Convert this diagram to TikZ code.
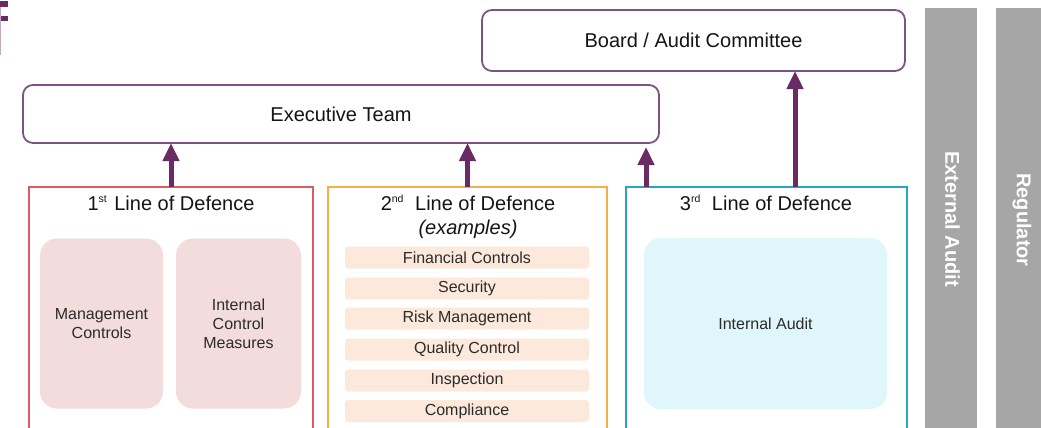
\documentclass[tikz,border=0pt]{standalone}
\usepackage{fontspec}
\setmainfont{Liberation Sans}
\usetikzlibrary{arrows.meta,calc}

\definecolor{boxpurple}{HTML}{7E5284}
\definecolor{arrowpurple}{HTML}{6A2A66}
\definecolor{lineone}{HTML}{DC5C62}
\definecolor{linetwo}{HTML}{F5AE48}
\definecolor{linethree}{HTML}{28A4C4}
\definecolor{pinkfill}{HTML}{F2DCDC}
\definecolor{peachfill}{HTML}{FCE9DC}
\definecolor{cyanfill}{HTML}{DFF6FB}
\definecolor{sidegray}{HTML}{A6A6A6}
\definecolor{inktext}{HTML}{151515}
\definecolor{softtext}{HTML}{2B2B2B}

% small raised ordinal suffix
\newcommand{\ordsuf}[1]{\raisebox{8pt}{\fontsize{10.5}{12}\selectfont #1}}

\tikzset{
  bigfont/.style={font=\fontsize{20}{24}\selectfont},
  smallfont/.style={font=\fontsize{16}{19}\selectfont},
  govbox/.style={draw=boxpurple, line width=1.8pt, rounded corners=10pt,
    fill=white, inner sep=0pt, outer sep=0pt, bigfont, text=inktext},
  linebox/.style={draw=#1, line width=1.6pt, fill=white, inner sep=0pt, outer sep=0pt},
  linetitle/.style={bigfont, text=inktext, inner sep=0pt},
  ctrlbox/.style={fill=#1, rounded corners=17pt, inner sep=0pt, outer sep=0pt,
    smallfont, text=softtext, align=center},
  listbar/.style={fill=peachfill, rounded corners=3pt, minimum width=244pt,
    minimum height=22pt, inner sep=0pt, smallfont, text=softtext},
  sidebar/.style={fill=sidegray, inner sep=0pt, outer sep=0pt},
  sidelabel/.style={text=white, font=\fontsize{20}{24}\selectfont\bfseries, rotate=-90, inner sep=0pt},
  uparrow/.style={draw=arrowpurple, line width=5pt,
    -{Triangle[length=18pt,width=16pt]}},
}

\begin{document}
\begin{tikzpicture}[x=1pt,y=-1pt]
\useasboundingbox (0,0) rectangle (1041,428);
\clip (0,0) rectangle (1041,428);
\fill[white] (0,0) rectangle (1041,428);

% edge of a heading letter cut off at the left border
\fill[arrowpurple] (-4,1) rectangle (7.5,7);
\fill[arrowpurple] (-4,16) rectangle (7.5,21.5);
\fill[arrowpurple!40] (-4,7) rectangle (0.8,55);

% governance boxes
\node[govbox, minimum width=423pt, minimum height=61pt] (board) at (693.5,40.5) {Board / Audit Committee};
\node[govbox, minimum width=636pt, minimum height=58pt] (exec) at (341,114) {Executive Team};

% the three lines of defence (they run on past the lower edge)
\node[linebox=lineone,   minimum width=284pt, minimum height=245pt] (lod1) at (171,309.5) {};
\node[linebox=linetwo,   minimum width=279pt, minimum height=245pt] (lod2) at (467.5,309.5) {};
\node[linebox=linethree, minimum width=281pt, minimum height=245pt] (lod3) at (766.5,309.5) {};

\node[linetitle] (t1) at (171,203) {1\ordsuf{st}\hspace{0.1em} Line of Defence};
\node[linetitle] (t2) at (468,203) {2\ordsuf{nd}\hspace{0.3em} Line of Defence};
\node[linetitle, font=\fontsize{20}{24}\selectfont\itshape] (t2b) at (468,229) {(examples)};
\node[linetitle] (t3) at (766,203) {3\ordsuf{rd}\hspace{0.3em} Line of Defence};

% first line contents
\node[ctrlbox=pinkfill, minimum width=123pt, minimum height=170pt] (mgmt) at (101.5,323.5) {Management\\Controls};
\node[ctrlbox=pinkfill, minimum width=125pt, minimum height=170pt] (icm) at (238.5,323.5) {Internal\\Control\\Measures};

% second line examples
\node[listbar] (fin)  at (467,257.5) {Financial Controls};
\node[listbar] (sec)  at (467,288.5) {Security};
\node[listbar] (risk) at (467,318.5) {Risk Management};
\node[listbar] (qual) at (467,349.5) {Quality Control};
\node[listbar] (insp) at (467,380.5) {Inspection};
\node[listbar] (comp) at (467,411)   {Compliance};

% third line contents
\node[ctrlbox=cyanfill, minimum width=243pt, minimum height=171pt] (ia) at (765.5,323.5) {Internal Audit};

% external parties
\node[sidebar, minimum width=52pt, minimum height=424pt] (extbar) at (951,220) {};
\node[sidebar, minimum width=49pt, minimum height=424pt] (regbar) at (1020.5,220) {};
\node[sidelabel] (extlbl) at (952.5,219) {External Audit};
\node[sidelabel] (reglbl) at (1022,220) {Regulator};

% reporting arrows
\coordinate (l3exec)  at ($(lod3.north west)+(20,0)$);
\coordinate (l3board) at ($(lod3.north west)+(169,0)$);
\draw[uparrow] (lod1.north) -- (lod1.north |- exec.south);
\draw[uparrow] (lod2.north) -- (lod2.north |- exec.south);
\draw[uparrow, shorten >=4pt] (l3exec) -- (l3exec |- exec.south);
\draw[uparrow] (l3board) -- (l3board |- board.south);
\end{tikzpicture}
\end{document}
